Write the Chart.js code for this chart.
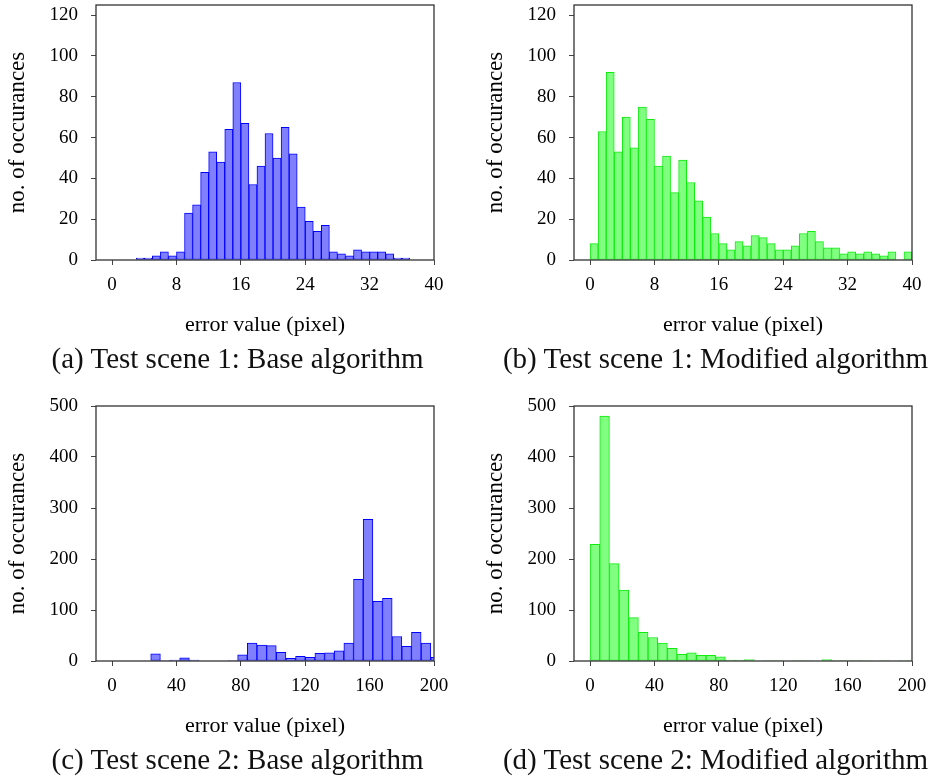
<!DOCTYPE html>
<html>
<head>
<meta charset="utf-8">
<script src="https://cdn.jsdelivr.net/npm/chart.js@4.4.0/dist/chart.umd.min.js"></script>
<style>
html,body{margin:0;padding:0;background:#fff;}
body{width:931px;height:784px;position:relative;overflow:hidden;font-family:"Liberation Serif",serif;}
canvas{position:absolute;display:block;}
.cap{position:absolute;width:480px;text-align:center;font-size:29px;line-height:29px;white-space:nowrap;color:#111;}
</style>
</head>
<body>
<canvas id="c1" width="465" height="345" style="left:0;top:0"></canvas>
<canvas id="c2" width="453" height="345" style="left:478px;top:0"></canvas>
<canvas id="c3" width="465" height="355" style="left:0;top:390px"></canvas>
<canvas id="c4" width="453" height="355" style="left:478px;top:390px"></canvas>
<div class="cap" style="left:-2.5px;top:344px">(a) Test scene 1: Base algorithm</div>
<div class="cap" style="left:475.5px;top:344px">(b) Test scene 1: Modified algorithm</div>
<div class="cap" style="left:-2.5px;top:745px">(c) Test scene 2: Base algorithm</div>
<div class="cap" style="left:475.5px;top:745px">(d) Test scene 2: Modified algorithm</div>
<script>
// ---- data ----
const scene1BinCenters = [0.5,1.5,2.5,3.5,4.5,5.5,6.5,7.5,8.5,9.5,10.5,11.5,12.5,13.5,14.5,15.5,16.5,17.5,18.5,19.5,20.5,21.5,22.5,23.5,24.5,25.5,26.5,27.5,28.5,29.5,30.5,31.5,32.5,33.5,34.5,35.5,36.5,37.5,38.5,39.5];
const scene1Base = [0,0,0,1,1,2,4,2,4,23, 27,43,53,48,64,87,67,37,46,62, 50,65,52,26,19,14,17,4,3,2, 5,4,4,4,3,1,1,0,0,0];
const scene1Modified = [8,63,92,53,70,55,75,69,46,51, 33,49,38,29,21,13,8,5,9,7, 12,11,8,5,5,7,13,14,9,6, 6,3,4,3,4,3,2,4,0,4];

const scene2BinCenters = [3,9,15,21,27,33,39,45,51,57,63,69,75,81,87,93,99,105,111,117,123,129,135,141,147,153,159,165,171,177,183,189,195,201];
const scene2Base = [0,0,0,0,14,1,2,6,2,0, 0,0,1,12,35,31,30,17,5,9, 7,15,16,20,35,160,278,117,123,48, 29,56,35,7];
const scene2Modified = [229,480,191,139,85,56,46,35,25,13, 16,11,11,8,2,2,3,0,1,1, 0,1,1,0,3,1,1,1,1,0, 1,0,1,0];

const scene1XTicks = [0,8,16,24,32,40];
const scene1YTicks = [0,20,40,60,80,100,120];
const scene2XTicks = [0,40,80,120,160,200];
const scene2YTicks = [0,100,200,300,400,500];

const xTitle = 'error value (pixel)';
const yTitle = 'no. of occurances';

// ---- drawing ----
Chart.defaults.font.family = '"Liberation Serif", serif';
Chart.defaults.color = '#000';

const framePlugin = {
  id: 'frame',
  afterDraw(chart) {
    const {ctx, chartArea: a} = chart;
    ctx.save();
    ctx.strokeStyle = '#333';
    ctx.lineWidth = 1.3;
    ctx.strokeRect(a.left, a.top, a.right - a.left, a.bottom - a.top);
    ctx.restore();
  }
};

const BLUE = {fill: 'rgb(128,128,255)', line: 'rgb(0,0,255)'};
const GREEN = {fill: 'rgb(128,255,128)', line: 'rgb(16,235,16)'};

function makeHist(id, centers, counts, col, xMin, xMax, xTicks, yMax, yTicks, pad) {
  const pts = centers.map((c, i) => ({x: c, y: counts[i]}));
  new Chart(document.getElementById(id), {
    type: 'bar',
    data: {
      datasets: [{
        data: pts,
        backgroundColor: col.fill,
        borderColor: col.line,
        borderWidth: 1,
        borderSkipped: false,
        barPercentage: 1,
        categoryPercentage: 1
      }]
    },
    options: {
      responsive: false,
      animation: false,
      devicePixelRatio: 1,
      layout: {padding: pad},
      plugins: {legend: {display: false}, tooltip: {enabled: false}},
      scales: {
        x: {
          type: 'linear',
          min: xMin, max: xMax,
          offset: false,
          afterBuildTicks(s) { s.ticks = xTicks.map(v => ({value: v})); },
          afterFit(s) { s.height = 78; s.paddingLeft = 0; s.paddingRight = 0; },
          grid: {display: true, drawOnChartArea: false, drawTicks: true, tickLength: 5, color: '#444', lineWidth: 1, offset: false},
          border: {display: false},
          ticks: {font: {size: 19}, padding: 9, maxRotation: 0, autoSkip: false},
          title: {display: true, text: xTitle, font: {size: 22}, padding: 0}
        },
        y: {
          min: 0, max: yMax,
          afterBuildTicks(s) { s.ticks = yTicks.map(v => ({value: v})); },
          afterFit(s) { s.width = 96; s.paddingTop = 0; s.paddingBottom = 0; },
          grid: {display: true, drawOnChartArea: false, drawTicks: true, tickLength: 5, color: '#444', lineWidth: 1},
          border: {display: false},
          ticks: {font: {size: 19}, padding: 13},
          title: {display: true, text: yTitle, font: {size: 23}, padding: {top: 4, bottom: 0}}
        }
      }
    },
    plugins: [framePlugin]
  });
}

makeHist('c1', scene1BinCenters, scene1Base, BLUE, -2, 40, scene1XTicks, 125, scene1YTicks, {left: 0, top: 5, right: 31, bottom: 7});
makeHist('c2', scene1BinCenters, scene1Modified, GREEN, -2, 40, scene1XTicks, 125, scene1YTicks, {left: 0, top: 5, right: 19, bottom: 7});
makeHist('c3', scene2BinCenters, scene2Base, BLUE, -10, 200, scene2XTicks, 500, scene2YTicks, {left: 0, top: 16, right: 31, bottom: 6});
makeHist('c4', scene2BinCenters, scene2Modified, GREEN, -10, 200, scene2XTicks, 500, scene2YTicks, {left: 0, top: 16, right: 19, bottom: 6});
</script>
</body>
</html>
